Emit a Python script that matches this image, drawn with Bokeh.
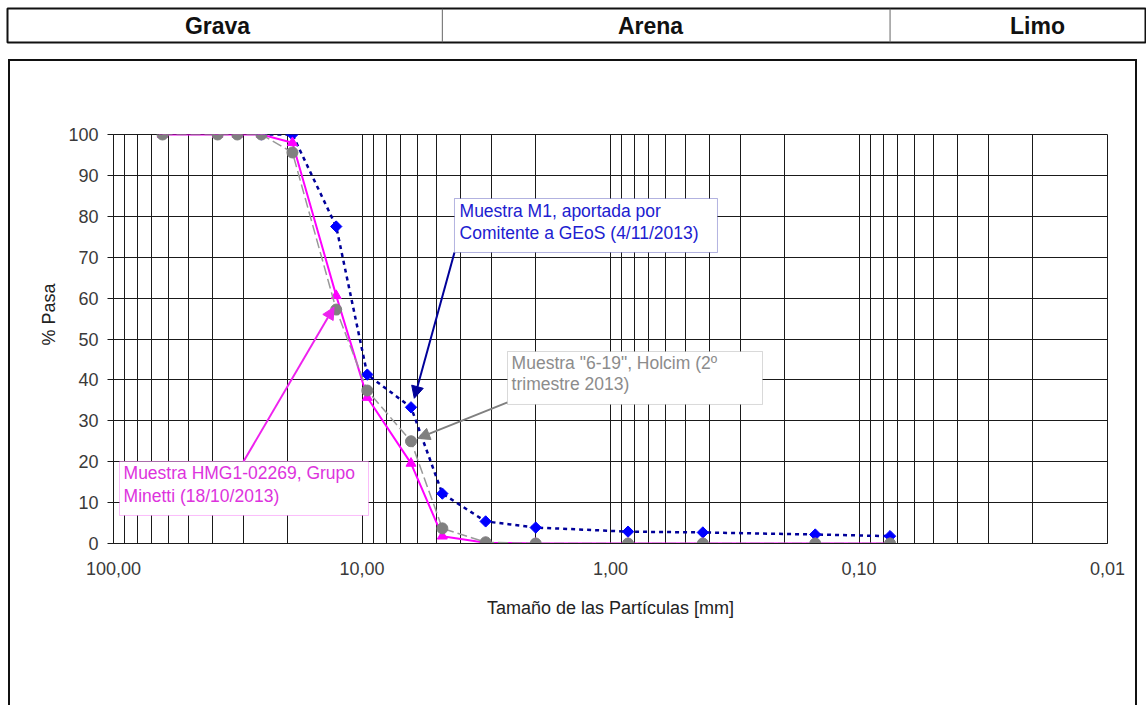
import numpy as np
from bokeh.plotting import figure
from bokeh.layouts import column, row
from bokeh.models import (Range1d, FixedTicker, BoxAnnotation, Label, Arrow, NormalHead,
                          Span, Spacer, Title)
from bokeh.embed import file_html
from bokeh.resources import INLINE

# ---------------- data ----------------
sizes_mm = [63.5, 38.1, 31.75, 25.4, 19.05, 12.7, 9.52, 6.35, 4.75, 3.18, 2.0, 0.85, 0.425, 0.15, 0.075]
m1_sizes = [25.4, 19.05, 12.7, 9.52, 6.35, 4.75, 3.18, 2.0, 0.85, 0.425, 0.15, 0.075]
m1_pass = [100, 100, 77.5, 41.3, 33.3, 12.2, 5.4, 3.9, 2.9, 2.7, 2.2, 1.8]
holcim_pass = [100, 100, 100, 100, 95.6, 57.2, 37.4, 25.0, 3.7, 0.3, 0, 0, 0, 0, 0]
minetti_pass = [100, 100, 100, 100, 98.0, 60.6, 35.7, 19.6, 1.8, 0.2, 0, 0, 0, 0, 0]

zones = ["Grava", "Arena", "Limo"]
zone_limits_mm = [4.75, 0.075]

x_ticks = [100, 10, 1, 0.1, 0.01]
x_tick_labels = ["100,00", "10,00", "1,00", "0,10", "0,01"]
y_ticks = [0, 10, 20, 30, 40, 50, 60, 70, 80, 90, 100]

note_m1 = ["Muestra M1, aportada por", "Comitente a GEoS (4/11/2013)"]
note_holcim = ["Muestra \"6-19\", Holcim (2º", "trimestre 2013)"]
note_minetti = ["Muestra HMG1-02269, Grupo", "Minetti (18/10/2013)"]

FONT = "Liberation Sans"
DARK = "#1a1a1a"

# geometry of the log axis (page pixels)
PLOT_L, PLOT_R = 113, 1107
DEC = (PLOT_R - PLOT_L) / 4.0


def page_x_to_mm(px):
    return 100.0 * 10 ** (-(px - PLOT_L) / DEC)


# ---------------- header strip ----------------
hdr = figure(width=1146, height=44, x_axis_type="log",
             x_range=Range1d(page_x_to_mm(7), page_x_to_mm(1146)), y_range=Range1d(0, 1),
             output_backend="svg", toolbar_location=None,
             min_border_left=7, min_border_right=0, min_border_top=8, min_border_bottom=2)
hdr.axis.visible = False
hdr.grid.visible = False
hdr.outline_line_color = "#111111"
hdr.outline_line_width = 2
hdr.background_fill_color = "white"
hdr.border_fill_color = "white"
for lim in zone_limits_mm:
    hdr.add_layout(Span(location=lim, dimension="height", line_color="#666666", line_width=1))
for name, px in zip(zones, [217, 650, 1037]):
    hdr.add_layout(Label(x=page_x_to_mm(px), y=0.5, text=name, text_align="center",
                         text_baseline="middle", text_font=FONT, text_font_size="23px",
                         text_font_style="bold", text_color="#111111"))

# ---------------- main chart ----------------
BORDER = 2
p = figure(width=1129, height=646, x_axis_type="log",
           x_range=Range1d(100, 0.01), y_range=Range1d(0, 100),
           output_backend="svg", toolbar_location=None,
           min_border_left=PLOT_L - 8 - BORDER, min_border_right=1129 + 8 + BORDER - PLOT_R,
           min_border_top=134 - 59 - BORDER, min_border_bottom=707 - 543)
p.background_fill_color = "white"
p.border_fill_color = "white"
p.outline_line_color = DARK
p.outline_line_width = 1
p.styles = {"border-top": "2px solid #111111", "border-left": "2px solid #111111",
            "border-right": "2px solid #111111", "box-sizing": "border-box"}

minor = [m * 10.0 ** k for k in range(-2, 2) for m in range(2, 10)]
p.xaxis.ticker = FixedTicker(ticks=x_ticks, minor_ticks=minor)
p.xaxis.major_label_overrides = dict(zip(x_ticks, x_tick_labels))
p.yaxis.ticker = FixedTicker(ticks=y_ticks)

p.xgrid.grid_line_color = DARK
p.xgrid.minor_grid_line_color = DARK
p.ygrid.grid_line_color = DARK

for ax in (p.xaxis[0], p.yaxis[0]):
    ax.axis_line_color = DARK
    ax.major_label_text_font = FONT
    ax.major_label_text_font_size = "18px"
    ax.major_label_text_color = "#3a3a3a"
    ax.axis_label_text_font = FONT
    ax.axis_label_text_font_size = "18px"
    ax.axis_label_text_font_style = "normal"
    ax.axis_label_text_color = "#222222"
    ax.minor_tick_in = 0
    ax.minor_tick_out = 0
    ax.major_tick_in = 0

p.xaxis.major_tick_out = 0
p.xaxis.major_label_standoff = 18
p.xaxis.axis_label = "Tamaño de las Partículas [mm]"
p.xaxis.axis_label_standoff = 20

p.yaxis.major_tick_out = 6
p.yaxis.major_tick_line_color = DARK
p.yaxis.major_label_standoff = 9

# y-axis title, placed a little above the middle of the plot area as in the original
p.add_layout(Title(text="% Pasa", align="left", offset=198, standoff=14,
                   text_font=FONT, text_font_size="18px", text_font_style="normal",
                   text_color="#222222"), "left")

# series
p.line(m1_sizes, m1_pass, line_color="#000099", line_width=2.5, line_dash="4 4")
p.scatter(m1_sizes, m1_pass, marker="square", angle=np.pi / 4, size=8,
          fill_color="#0000ff", line_color="#0000ff")

p.line(sizes_mm, minetti_pass, line_color="#ff00ff", line_width=2)
p.scatter(sizes_mm, minetti_pass, marker="triangle", size=10,
          fill_color="#ff00ff", line_color="#ff00ff")

p.line(sizes_mm, holcim_pass, line_color="#999999", line_width=1.5, line_dash="10 4")
p.scatter(sizes_mm, holcim_pass, marker="circle", size=11,
          fill_color="#808080", line_color="#808080")


# callouts
def callout(lines, left, right, top, bottom, tx, ty, color, border, start, end):
    p.add_layout(Arrow(end=NormalHead(size=12, fill_color=border, line_color=border),
                       x_start=start[0], y_start=start[1], x_end=end[0], y_end=end[1],
                       line_color=border, line_width=2))
    p.add_layout(BoxAnnotation(left=left, right=right, top=top, bottom=bottom,
                               fill_color="white", fill_alpha=1.0,
                               line_color=border, line_width=1))
    for i, t in enumerate(lines):
        p.add_layout(Label(x=tx, y=ty[i], text=t, text_baseline="middle",
                           text_font=FONT, text_font_size="17.5px", text_color=color))


callout(note_m1, 4.245, 0.3711, 84.35, 71.15, 4.05, [81.4, 76.0],
        "#2020d0", "#000099", (4.245, 71.15), (m1_sizes[4] * 0.97, m1_pass[4] + 2.2))
callout(note_holcim, 2.597, 0.2445, 46.94, 33.99, 2.50, [44.1, 38.9],
        "#8c8c8c", "#808080", (2.597, 34.5), (sizes_mm[7] * 0.94, holcim_pass[7] + 0.7))
callout(note_minetti, 94.6, 9.415, 20.05, 6.85, 91.1, [17.2, 11.5],
        "#dd33dd", "#ee22ee", (29.98, 20.05), (sizes_mm[5] * 1.02, minetti_pass[5] - 2.8))

layout = column(hdr, Spacer(height=15), row(Spacer(width=8), p))

open("out.html", "w").write(file_html(layout, INLINE))
